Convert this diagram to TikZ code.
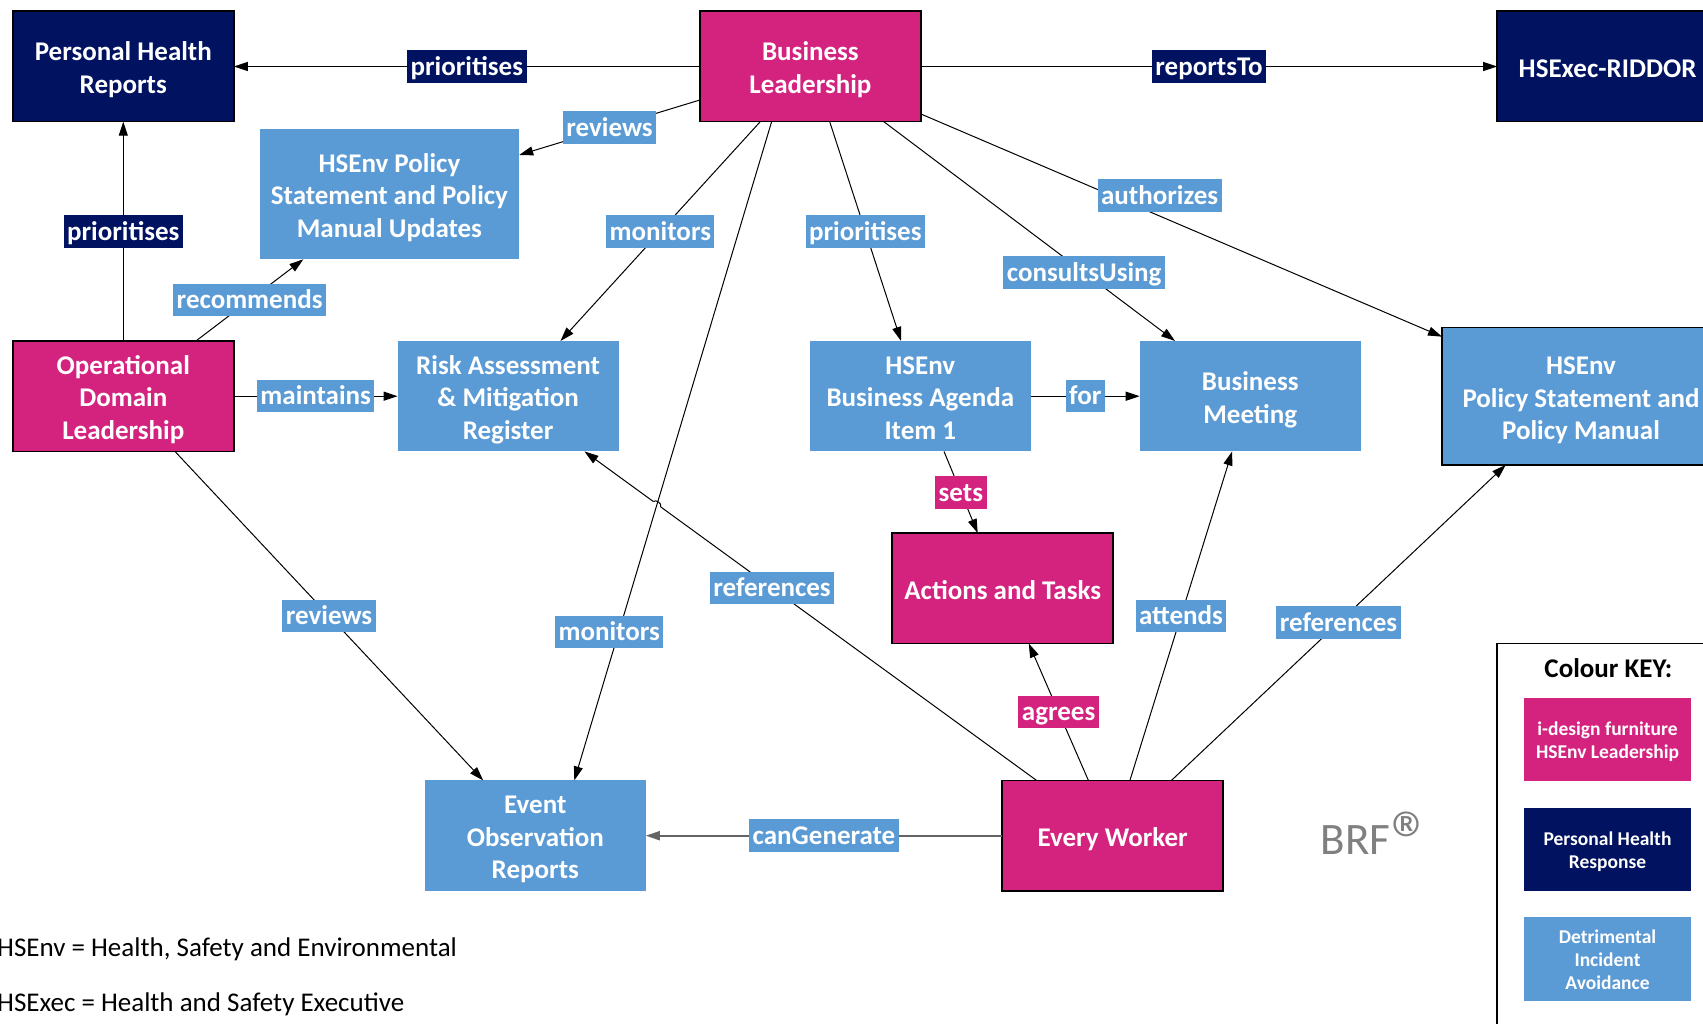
\documentclass[tikz,border=0pt]{standalone}
\usepackage{fontspec}
\setmainfont{Carlito}
\usetikzlibrary{arrows.meta,calc,intersections}

\definecolor{hsPink}{RGB}{212,35,127}
\definecolor{hsNavy}{RGB}{1,19,96}
\definecolor{hsBlue}{RGB}{91,155,213}
\definecolor{brfGrey}{RGB}{128,128,128}
\definecolor{lineGrey}{RGB}{100,100,100}

\newcommand\boxfont{\fontsize{27}{32.5}\selectfont\bfseries}
\newcommand\keyfont{\fontsize{19.5}{23}\selectfont\bfseries}
\newcommand\bs{\rule[-5.5pt]{0pt}{32.5pt}}
\newcommand\ks{\rule[-4.3pt]{0pt}{23pt}}

\tikzset{
  box/.style={rectangle, minimum width=221pt, minimum height=110.5pt,
    inner sep=0pt, outer sep=0pt, align=center, text=white, font=\boxfont},
  pinkbox/.style={box, fill=hsPink, draw=black, line width=1.5pt},
  navybox/.style={box, fill=hsNavy, draw=black, line width=1.5pt},
  bluebox/.style={box, fill=hsBlue},
  lbl/.style={rectangle, fill=hsBlue, text=white, font=\boxfont,
    inner xsep=3.5pt, inner ysep=0pt, text height=25pt, text depth=7.5pt},
  navylbl/.style={lbl, fill=hsNavy},
  pinklbl/.style={lbl, fill=hsPink},
  conn/.style={draw=black, line width=1pt, -{Triangle[length=14pt,width=9pt]}},
  hconn/.style={conn, line width=1.3pt},
  keybox/.style={rectangle, minimum width=166.4pt, minimum height=83.5pt,
    inner sep=0pt, outer sep=0pt, align=center, text=white, font=\keyfont},
}

\begin{document}
\begin{tikzpicture}[x=1pt,y=-1pt]
\useasboundingbox (0,0) rectangle (1703,1024);
\fill[white] (0,0) rectangle (1703,1024);

% ---- boxes ----
\node[navybox] (PHR) at (123.3,66.5) {\bs Personal Health\\Reports\bs};
\node[pinkbox] (BL) at (810.4,66.5) {\bs Business\\Leadership\bs};
\node[navybox] (RID) at (1607.6,66.5) {\bs HSExec-RIDDOR\bs};
\node[bluebox, minimum width=259.6pt, minimum height=130.3pt] (UPD) at (389.4,194.2)
  {\bs HSEnv Policy\\Statement and Policy\\Manual Updates\bs};
\node[pinkbox] (ODL) at (123.3,396.2) {\bs Operational\\Domain\\Leadership\bs};
\node[bluebox] (RISK) at (508.1,396.2) {\bs Risk Assessment\\\& Mitigation\\Register\bs};
\node[bluebox] (AGD) at (920.3,396.2) {\bs HSEnv\\Business Agenda\\Item 1\bs};
\node[bluebox] (MTG) at (1250.2,396.2) {\bs Business\\Meeting\bs};
\node[bluebox, draw=black, line width=1.5pt, minimum width=278pt, minimum height=137.3pt] (MAN)
  at (1581,396.3) {\bs HSEnv\\Policy Statement and\\Policy Manual\bs};
\node[pinkbox] (ACT) at (1002.7,588.3) {\bs Actions and Tasks\bs};
\node[pinkbox] (EW) at (1112.7,835.7) {\bs Every Worker\bs};
\node[bluebox] (EOR) at (535.3,835.7) {\bs Event\\Observation\\Reports\bs};

% ---- connectors from Business Leadership ----
\draw[hconn] (BL.west) -- node[navylbl, pos=0.5] {prioritises} (PHR.east);
\draw[hconn] (BL.east) -- node[navylbl, pos=0.5] {reportsTo} (RID.west);
\draw[conn] ([yshift=-33.5pt]BL.west) -- node[lbl, pos=0.5] {reviews} ([yshift=39.2pt]UPD.east);
\draw[conn] ([xshift=-50.2pt]BL.south) -- node[lbl, pos=0.5] {monitors} ([xshift=52.4pt]RISK.north);
\draw[conn] ([xshift=19.3pt]BL.south) -- node[lbl, pos=0.5] {prioritises} ([xshift=-19.3pt]AGD.north);
\draw[conn] ([xshift=73.5pt]BL.south) -- node[lbl, pos=0.688] {consultsUsing} ([xshift=-75.2pt]MTG.north);
\draw[conn] ([yshift=-47.5pt]BL.east) -- node[lbl, pos=0.4, xshift=30.3pt, yshift=7.7pt] {authorizes} ([yshift=59.6pt]MAN.west);

% ---- connectors from Operational Domain Leadership ----
\draw[conn] (ODL.north) -- node[navylbl, pos=0.5] {prioritises} (PHR.south);
\draw[conn] ([xshift=72.7pt]ODL.north) -- node[lbl, pos=0.5] {recommends} ([xshift=-86.1pt]UPD.south);
\draw[hconn] (ODL.east) -- node[lbl, pos=0.5] {maintains} (RISK.west);
\draw[conn] ([xshift=51.7pt]ODL.south) -- node[lbl, pos=0.5] {reviews} ([xshift=-52.1pt]EOR.north);

% ---- agenda ----
\draw[hconn] (AGD.east) -- node[lbl, pos=0.5] {for} (MTG.west);
\draw[conn] ([xshift=23.7pt]AGD.south) -- node[pinklbl, pos=0.5] {sets} ([xshift=-25pt]ACT.north);

% ---- connectors from Every Worker ----
\draw[conn] ([xshift=-24.3pt]EW.north) -- node[pinklbl, pos=0.5] {agrees} ([xshift=26.1pt]ACT.south);
\draw[conn] ([xshift=17.2pt]EW.north) -- node[lbl, pos=0.5] {attends} ([xshift=-18.1pt]MTG.south);
\draw[conn] ([xshift=58.7pt]EW.north) -- node[lbl, pos=0.5] {references} ([xshift=-75.3pt]MAN.south);
\draw[conn, draw=lineGrey, line width=2pt] (EW.west) -- node[lbl, pos=0.5] {canGenerate} (EOR.east);

% references -> risk register, with a line hop over the monitors line
\coordinate (refS) at ([xshift=-76.1pt]EW.north);
\coordinate (refE) at ([xshift=76.4pt]RISK.south);
\coordinate (monS) at ([xshift=-38.8pt]BL.south);
\coordinate (monE) at ([xshift=39pt]EOR.north);
\path[name path=refpath] (refS) -- (refE);
\path[name path=monpath] (monS) -- (monE);
\path[name intersections={of=refpath and monpath, by=hopX}];
\draw[conn] (refS) -- node[lbl, pos=0.585] {references} (refE);
\draw[white, line width=3pt] ($(hopX)!4.5pt!(refS)$) -- ($(hopX)!4.5pt!(refE)$);
\draw[black, line width=1pt] ($(hopX)!4.5pt!(refS)$) to[bend right=90] ($(hopX)!4.5pt!(refE)$);
\draw[conn] (monS) -- node[lbl, pos=0.7745, xshift=-9.6pt] {monitors} (monE);

% ---- colour key ----
\draw[black, line width=1.5pt] (1497,643.3) rectangle (1720,1040);
\node[anchor=base, inner sep=0pt, font=\boxfont] (keyT) at (1608.3,677.7) {Colour KEY:};
\node[keybox, fill=hsPink] (key1) at (1607.5,739.7) {\ks i-design furniture\\HSEnv Leadership\ks};
\node[keybox, fill=hsNavy] (key2) at (1607.5,849.4) {\ks Personal Health\\Response\ks};
\node[keybox, fill=hsBlue] (key3) at (1607.5,959) {\ks Detrimental\\Incident\\Avoidance\ks};

% ---- mark ----
\node[anchor=base west, inner sep=0pt, text=brfGrey, font=\fontsize{45}{48}\selectfont] (brf)
  at (1320.5,854) {BRF};
\node[anchor=north, inner sep=0pt, text=brfGrey, font=\fontsize{82}{82}\selectfont] (brfR)
  at (1412,812) {®};

% ---- abbreviations ----
\node[anchor=base west, inner sep=0pt, font=\fontsize{27}{32}\selectfont] (fn1)
  at (-3,956.8) {HSEnv = Health, Safety and Environmental};
\node[anchor=base west, inner sep=0pt, font=\fontsize{27}{32}\selectfont] (fn2)
  at (-3,1011) {HSExec = Health and Safety Executive};
\end{tikzpicture}
\end{document}
